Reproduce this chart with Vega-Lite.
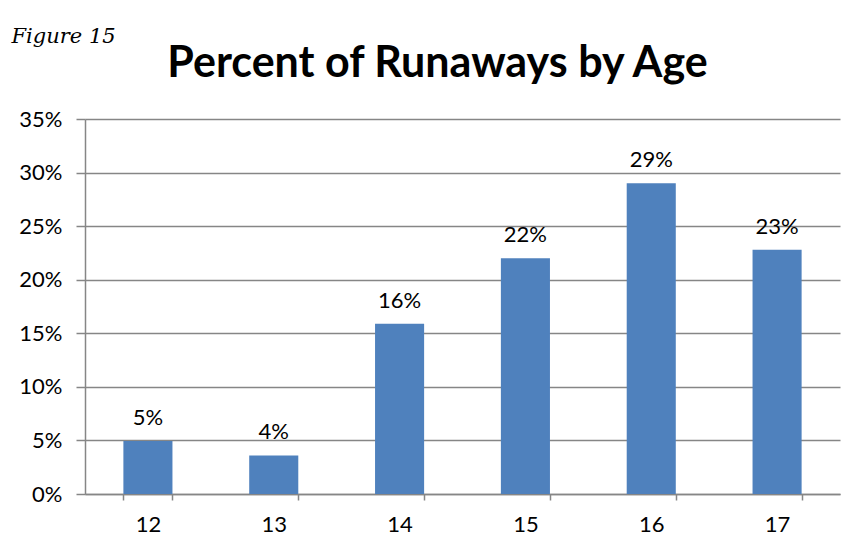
{
  "$schema": "https://vega.github.io/schema/vega-lite/v6.json",
  "autosize": {"type": "none"},
  "width": 755,
  "height": 375,
  "padding": {"left": 85, "top": 119, "right": 21, "bottom": 65},
  "background": "white",
  "title": {
    "text": "Percent of Runaways by Age",
    "font": "Lato",
    "fontWeight": "bold",
    "fontSize": 43,
    "color": "#000000",
    "anchor": "middle",
    "baseline": "alphabetic",
    "dx": -25,
    "offset": 0,
    "dy": 95
  },
  "data": {
    "values": [
      {"age": "12", "pct": 0.0495},
      {"age": "13", "pct": 0.036},
      {"age": "14", "pct": 0.159},
      {"age": "15", "pct": 0.22},
      {"age": "16", "pct": 0.29},
      {"age": "17", "pct": 0.228}
    ]
  },
  "encoding": {
    "x": {
      "field": "age",
      "type": "ordinal",
      "scale": {"paddingInner": 0.61, "paddingOuter": 0.305},
      "axis": {
        "title": null,
        "labelAngle": 0,
        "labelFont": "Lato",
        "labelFontSize": 22,
        "labelColor": "#000000",
        "labelPadding": 14,
        "tickBand": "extent",
        "tickSize": 6,
        "tickColor": "#868686",
        "tickWidth": 1.5,
        "domainColor": "#868686",
        "domainWidth": 1.5,
        "grid": false
      }
    },
    "y": {
      "field": "pct",
      "type": "quantitative",
      "scale": {"domain": [0, 0.35], "nice": false},
      "axis": {
        "title": "Figure 15",
        "titleAngle": 0,
        "titleX": -74,
        "titleY": -77,
        "titleAlign": "left",
        "titleBaseline": "alphabetic",
        "titleFont": "DejaVu Serif",
        "titleFontStyle": "italic",
        "titleFontWeight": "normal",
        "titleFontSize": 21,
        "titleColor": "#000000",
        "values": [0, 0.05, 0.1, 0.15, 0.2, 0.25, 0.3, 0.35],
        "format": ".0%",
        "labelFont": "Lato",
        "labelFontSize": 22,
        "labelColor": "#000000",
        "labelPadding": 14,
        "tickSize": 9,
        "tickColor": "#868686",
        "tickWidth": 1.5,
        "domainColor": "#868686",
        "domainWidth": 1.5,
        "gridColor": "#868686",
        "gridWidth": 1.5
      }
    }
  },
  "layer": [
    {"mark": {"type": "bar", "color": "#4F81BD"}},
    {
      "mark": {"type": "text", "baseline": "alphabetic", "dy": -16, "font": "Lato", "fontSize": 22, "color": "#000000"},
      "encoding": {"text": {"field": "pct", "format": ".0%"}}
    }
  ],
  "config": {"view": {"stroke": null}}
}
